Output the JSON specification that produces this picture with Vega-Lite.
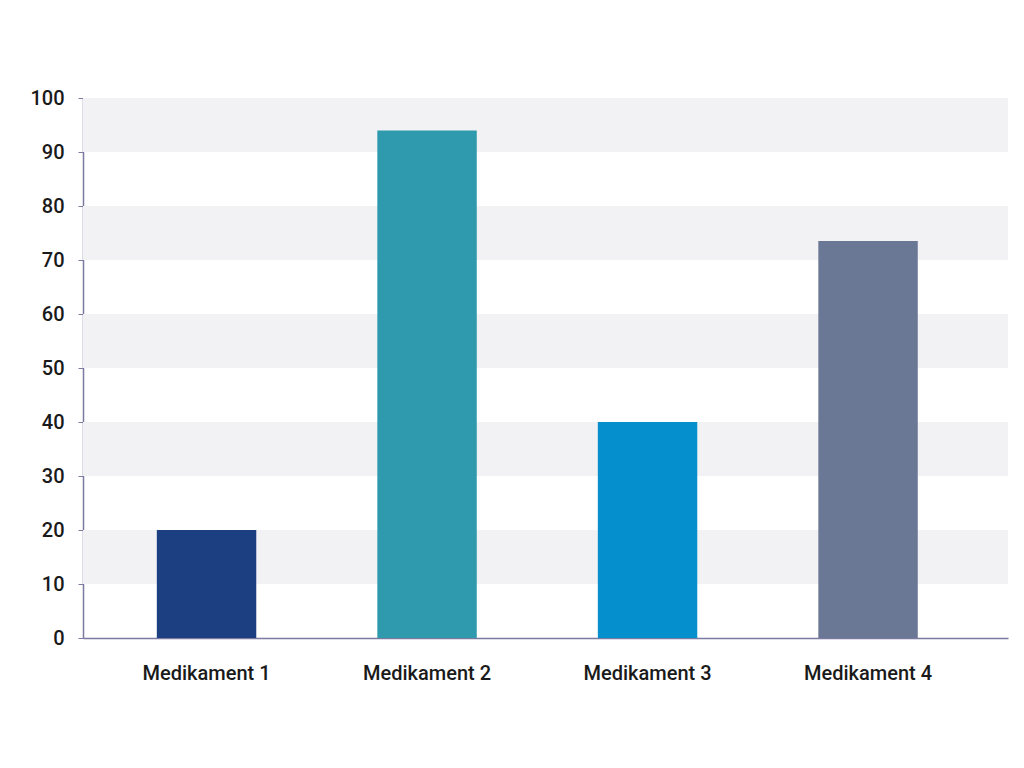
{
  "$schema": "https://vega.github.io/schema/vega-lite/v6.json",
  "autosize": {"type": "none"},
  "width": 925,
  "height": 540,
  "padding": {"left": 83, "top": 98, "right": 16, "bottom": 130},
  "background": "white",
  "config": {"view": {"stroke": null}, "font": "Roboto"},
  "datasets": {
    "bars": [
      {"name": "Medikament 1", "value": 20},
      {"name": "Medikament 2", "value": 94},
      {"name": "Medikament 3", "value": 40},
      {"name": "Medikament 4", "value": 73.5}
    ],
    "stripes": [
      {"lo": 10, "hi": 20},
      {"lo": 30, "hi": 40},
      {"lo": 50, "hi": 60},
      {"lo": 70, "hi": 80},
      {"lo": 90, "hi": 100}
    ]
  },
  "layer": [
    {
      "data": {"name": "stripes"},
      "mark": {"type": "rect", "color": "#f2f2f5"},
      "encoding": {
        "y": {"field": "lo", "type": "quantitative", "scale": {"domain": [0, 100], "nice": false}},
        "y2": {"field": "hi"}
      }
    },
    {
      "data": {"name": "bars"},
      "mark": {"type": "bar"},
      "encoding": {
        "x": {
          "field": "name", "type": "nominal", "sort": null,
          "scale": {"paddingInner": 0.549, "paddingOuter": 0.372, "align": 0.45},
          "axis": {"title": null, "labelAngle": 0, "ticks": false, "domainColor": "#7b7aa0", "domainWidth": 1.5, "labelFont": "Roboto", "labelFontSize": 20, "labelFontWeight": 500, "labelColor": "#1a1a1a", "labelPadding": 25}
        },
        "y": {
          "field": "value", "type": "quantitative",
          "scale": {"domain": [0, 100], "nice": false},
          "axis": {"title": null, "values": [0,10,20,30,40,50,60,70,80,90,100], "grid": false, "domainColor": "#7b7aa0", "domainWidth": 1.5, "tickColor": "#7b7aa0", "tickSize": 5, "labelPadding": 14, "labelFont": "Roboto", "labelFontSize": 20, "labelFontWeight": 500, "labelColor": "#1a1a1a"}
        },
        "color": {
          "field": "name", "type": "nominal", "legend": null,
          "scale": {"domain": ["Medikament 1", "Medikament 2", "Medikament 3", "Medikament 4"], "range": ["#1b3f80", "#2f9aae", "#068fcd", "#6a7895"]}
        }
      }
    }
  ]
}
